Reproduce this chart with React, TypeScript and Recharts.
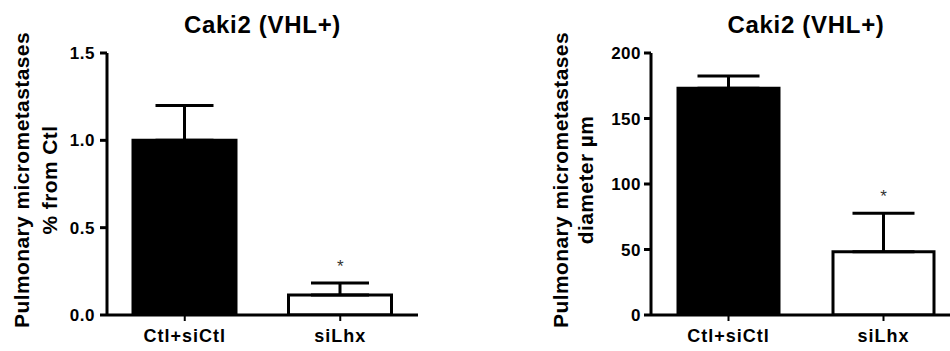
import { BarChart, Bar, XAxis, YAxis, ErrorBar, Cell, ReferenceDot } from "recharts";

const categories = ["Ctl+siCtl", "siLhx"];
const barFills = ["#000000", "#ffffff"];

// left panel: % from Ctl
const pctMean = [1.0, 0.115];
const pctSem = [0.2, 0.068];
const pctTicks = [0, 0.5, 1.0, 1.5];
const pctStar = 0.28;

// right panel: diameter in µm
const diamMean = [173, 48.3];
const diamSem = [9.4, 29.3];
const diamTicks = [0, 50, 100, 150, 200];
const diamStar = 91;

const FONT = "'Liberation Sans', Arial, Helvetica, sans-serif";

type PanelProps = {
  left: number;
  width: number;
  yAxisWidth: number;
  marginRight: number;
  means: number[];
  sems: number[];
  ticks: number[];
  tickFmt: (v: number) => string;
  star: number;
  yLines: string[];
  yLineX: number[];
  barSize: number;
  capHalf: number;
  tickMargin: number;
};

function Panel(p: PanelProps) {
  const data = categories.map((name, i) => ({
    name,
    mean: p.means[i],
    err: [0, p.sems[i]],
  }));
  const plotW = p.width - p.yAxisWidth - p.marginRight;
  const top = ticks0(p.ticks);

  const yLabel = () => (
    <g>
      {p.yLines.map((t, i) => (
        <text
          key={i}
          transform={`translate(${p.yLineX[i]},180) rotate(-90)`}
          textAnchor="middle"
          fontSize={21}
          fontWeight="bold"
          letterSpacing={0.4}
          fill="#000"
          fontFamily={FONT}
        >
          {t}
        </text>
      ))}
    </g>
  );

  return (
    <div style={{ position: "absolute", left: p.left, top: 0, width: p.width, height: 351 }}>
      <div
        style={{
          position: "absolute",
          left: p.yAxisWidth,
          width: plotW,
          top: 13,
          textAlign: "center",
          fontFamily: FONT,
          fontWeight: "bold",
          fontSize: 24,
          lineHeight: "24px",
          letterSpacing: 0.7,
          color: "#000",
        }}
      >
        Caki2 (VHL+)
      </div>
      <BarChart
        width={p.width}
        height={351}
        data={data}
        margin={{ top: 53, right: p.marginRight, bottom: 0, left: 0 }}
        style={{ fontFamily: FONT }}
      >
        <XAxis
          dataKey="name"
          height={36}
          axisLine={{ stroke: "#000", strokeWidth: 3 }}
          tickLine={{ stroke: "#000", strokeWidth: 2 }}
          tickSize={6}
          tickMargin={8}
          tick={{ fill: "#000", fontSize: 18, fontWeight: "bold", letterSpacing: 1, fontFamily: FONT }}
        />
        <YAxis
          width={p.yAxisWidth}
          domain={[0, top]}
          ticks={p.ticks}
          allowDataOverflow
          tickFormatter={p.tickFmt}
          axisLine={{ stroke: "#000", strokeWidth: 3 }}
          tickLine={{ stroke: "#000", strokeWidth: 3 }}
          tickSize={7}
          tickMargin={p.tickMargin}
          tick={{ fill: "#000", fontSize: 17, fontWeight: "bold", letterSpacing: 0.5, fontFamily: FONT }}
          label={{ content: yLabel }}
        />
        <Bar dataKey="mean" barSize={p.barSize} stroke="#000" strokeWidth={3} isAnimationActive={false}>
          {data.map((d, i) => (
            <Cell key={d.name} fill={barFills[i]} />
          ))}
          <ErrorBar dataKey="err" direction="y" width={p.capHalf} stroke="#000" strokeWidth={3} />
        </Bar>
        <ReferenceDot
          x={categories[1]}
          y={p.star}
          r={1}
          fill="none"
          stroke="none"
          ifOverflow="visible"
          label={{ value: "*", position: "center", fontSize: 17, fill: "#333", fontFamily: FONT }}
        />
      </BarChart>
    </div>
  );
}

function ticks0(t: number[]) {
  return t[t.length - 1];
}

export default function App() {
  return (
    <div
      style={{
        position: "absolute",
        left: 0,
        top: 0,
        width: 950,
        height: 351,
        overflow: "hidden",
        background: "#fff",
      }}
    >
      <Panel
        left={0}
        width={475}
        yAxisWidth={107}
        marginRight={57}
        means={pctMean}
        sems={pctSem}
        ticks={pctTicks}
        tickFmt={(v) => v.toFixed(1)}
        star={pctStar}
        yLines={["Pulmonary micrometastases", "% from Ctl"]}
        yLineX={[28.5, 57]}
        barSize={103}
        capHalf={29}
        tickMargin={5}
      />
      <Panel
        left={475}
        width={500}
        yAxisWidth={176}
        marginRight={14}
        means={diamMean}
        sems={diamSem}
        ticks={diamTicks}
        tickFmt={(v) => String(v)}
        star={diamStar}
        yLines={["Pulmonary micrometastases", "diameter µm"]}
        yLineX={[93, 118]}
        barSize={101}
        capHalf={31}
        tickMargin={3}
      />
    </div>
  );
}
